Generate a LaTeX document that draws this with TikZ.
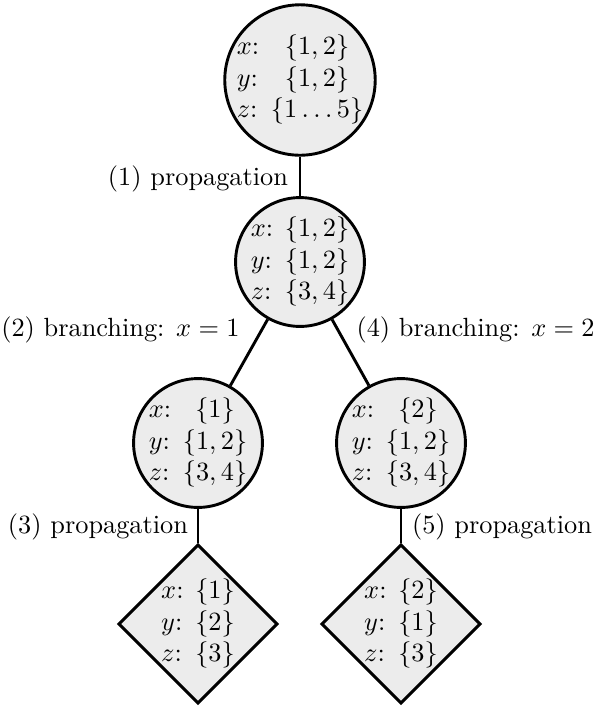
\documentclass[tikz,border=0pt]{standalone}
\usetikzlibrary{shapes.geometric}
\begin{document}
\begin{tikzpicture}[x=0.37994pt,y=-0.37994pt,
  varbox/.style={draw=black, line width=1.1pt, fill=gray!15, inner sep=-1pt},
  rootnode/.style={varbox, circle, minimum size=56.6pt},
  innernode/.style={varbox, circle, minimum size=48.3pt},
  leafnode/.style={varbox, diamond, aspect=1, inner sep=-1.5pt, minimum size=60.5pt},
  conn/.style={line width=1.1pt},
  lbl/.style={inner sep=0pt}
]
\useasboundingbox (0,0) rectangle (594,708);

% search states
\node[rootnode] (root) at (300,80)
  {\begin{tabular}{@{}l@{ }c@{}}$x$: & $\{1,2\}$\\ $y$: & $\{1,2\}$\\
   $z$: & $\{1\,.\kern1.7pt.\kern1.7pt.\,5\}$\end{tabular}};
\node[innernode] (mid) at (300,262)
  {\begin{tabular}{@{}l@{ }c@{}}$x$: & $\{1,2\}$\\ $y$: & $\{1,2\}$\\ $z$: & $\{3,4\}$\end{tabular}};
\node[innernode] (left) at (198,443)
  {\begin{tabular}{@{}l@{ }c@{}}$x$: & $\{1\}$\\ $y$: & $\{1,2\}$\\ $z$: & $\{3,4\}$\end{tabular}};
\node[innernode] (right) at (401,443)
  {\begin{tabular}{@{}l@{ }c@{}}$x$: & $\{2\}$\\ $y$: & $\{1,2\}$\\ $z$: & $\{3,4\}$\end{tabular}};
\node[leafnode] (leafL) at (198,624)
  {\begin{tabular}{@{}l@{ }c@{}}$x$: & $\{1\}$\\ $y$: & $\{2\}$\\ $z$: & $\{3\}$\end{tabular}};
\node[leafnode] (leafR) at (401,624)
  {\begin{tabular}{@{}l@{ }c@{}}$x$: & $\{2\}$\\ $y$: & $\{1\}$\\ $z$: & $\{3\}$\end{tabular}};

% search steps
\draw[conn] (root) -- (mid);
\draw[conn] (mid) -- (left);
\draw[conn] (mid) -- (right);
\draw[conn] (left) -- (leafL);
\draw[conn] (right) -- (leafR);

% step labels
\node[lbl, anchor=east] (p1) at (288.5,178.5) {(1) propagation};
\node[lbl, anchor=east] (b2) at (240,329.5) {(2) branching: $x=1$};
\node[lbl, anchor=west] (b4) at (356,329.5) {(4) branching: $x=2$};
\node[lbl, anchor=east] (p3) at (188.5,526.5) {(3) propagation};
\node[lbl, anchor=west] (p5) at (411.5,526.5) {(5) propagation};
\end{tikzpicture}
\end{document}
